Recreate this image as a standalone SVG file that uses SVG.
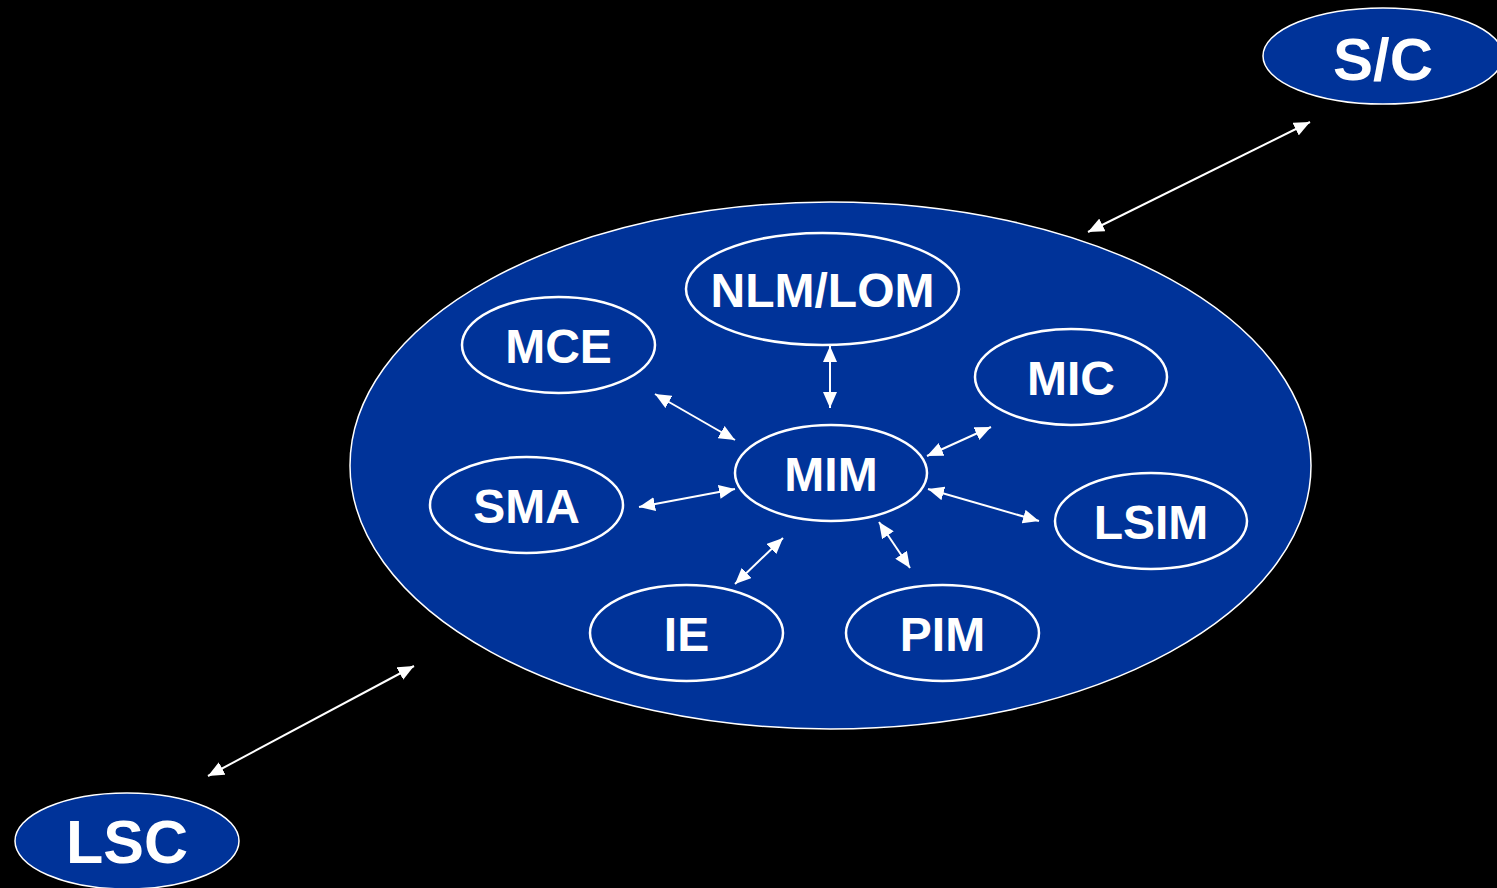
<svg xmlns="http://www.w3.org/2000/svg" width="1497" height="888" viewBox="0 0 1497 888">
<defs>
<style>
.outer{fill:#003399;stroke:#ffffff;stroke-width:1.5}
.inner{fill:#003399;stroke:#ffffff;stroke-width:2.5}
.lbl{font-family:"Liberation Sans",Arial,sans-serif;font-weight:bold;fill:#ffffff;text-anchor:middle}
.c{stroke:#ffffff;stroke-width:2;fill:none;marker-start:url(#ah);marker-end:url(#ah)}
</style>
<marker id="ah" viewBox="0 0 16 14" refX="16" refY="7" markerWidth="16" markerHeight="14" markerUnits="userSpaceOnUse" orient="auto-start-reverse">
<path d="M0,0 L16,7 L0,14 z" fill="#ffffff"/>
</marker>
</defs>
<rect x="0" y="0" width="1497" height="888" fill="#000000"/>
<g id="system">
<ellipse class="outer" cx="830.5" cy="465.5" rx="480.5" ry="263.5"/>
</g>
<g id="sc">
<ellipse class="outer" cx="1383" cy="56" rx="120" ry="48"/>
<text class="lbl" x="1383" y="80" font-size="60">S/C</text>
</g>
<g id="lsc">
<ellipse class="outer" cx="127" cy="841" rx="112" ry="48"/>
<text class="lbl" x="127" y="863" font-size="61">LSC</text>
</g>
<g id="nlmlom">
<ellipse class="inner" cx="822.5" cy="289" rx="136.5" ry="56"/>
<text class="lbl" x="822.5" y="307" font-size="48">NLM/LOM</text>
</g>
<g id="mce">
<ellipse class="inner" cx="558.5" cy="345" rx="96.5" ry="48"/>
<text class="lbl" x="558.5" y="363" font-size="48">MCE</text>
</g>
<g id="mic">
<ellipse class="inner" cx="1071" cy="377" rx="96" ry="48"/>
<text class="lbl" x="1071" y="395" font-size="48">MIC</text>
</g>
<g id="mim">
<ellipse class="inner" cx="831" cy="473" rx="96" ry="48"/>
<text class="lbl" x="831" y="491" font-size="48">MIM</text>
</g>
<g id="sma">
<ellipse class="inner" cx="526.5" cy="505" rx="96.5" ry="48"/>
<text class="lbl" x="526.5" y="523" font-size="48">SMA</text>
</g>
<g id="lsim">
<ellipse class="inner" cx="1151" cy="521" rx="96" ry="48"/>
<text class="lbl" x="1151" y="539" font-size="48">LSIM</text>
</g>
<g id="ie">
<ellipse class="inner" cx="686.5" cy="633" rx="96.5" ry="48"/>
<text class="lbl" x="686.5" y="651" font-size="48">IE</text>
</g>
<g id="pim">
<ellipse class="inner" cx="942.5" cy="633" rx="96.5" ry="48"/>
<text class="lbl" x="942.5" y="651" font-size="48">PIM</text>
</g>
<g id="connectors">
<line class="c" x1="1310" y1="122" x2="1088" y2="232"/>
<line class="c" x1="414" y1="666" x2="208" y2="776"/>
<line class="c" x1="830" y1="346" x2="830" y2="408"/>
<line class="c" x1="655" y1="394" x2="735" y2="440"/>
<line class="c" x1="991" y1="427" x2="927" y2="456"/>
<line class="c" x1="639" y1="507" x2="735" y2="489"/>
<line class="c" x1="1039" y1="521" x2="928" y2="489"/>
<line class="c" x1="735" y1="584" x2="783" y2="538"/>
<line class="c" x1="879" y1="522" x2="910" y2="568"/>
</g>
</svg>
